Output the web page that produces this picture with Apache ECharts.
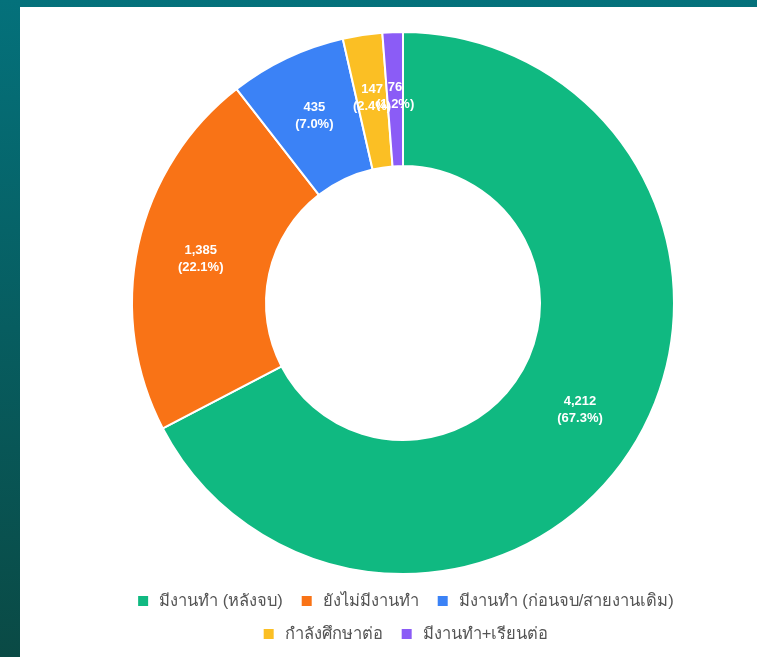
<!DOCTYPE html>
<html>
<head>
<meta charset="utf-8">
<script src="https://cdn.jsdelivr.net/npm/echarts@6/dist/echarts.min.js"></script>
<style>
  html, body { margin: 0; padding: 0; width: 757px; height: 657px; overflow: hidden; }
  body { background: linear-gradient(180deg, #04717b 0%, #075d60 50%, #0a4a45 100%); position: relative; }
  .panel { position: absolute; left: 20px; top: 7px; width: 737px; height: 650px; background: #fff; }
  #chart { position: absolute; left: 20px; top: 7px; width: 770px; height: 650px; }
</style>
</head>
<body>
<div class="panel"></div>
<div id="chart"></div>
<script>
// Graduate employment status breakdown
const categories = ['มีงานทำ (หลังจบ)', 'ยังไม่มีงานทำ', 'มีงานทำ (ก่อนจบ/สายงานเดิม)', 'กำลังศึกษาต่อ', 'มีงานทำ+เรียนต่อ']
const counts = [4212, 1385, 435, 147, 76]
const colors = ['#10b981', '#f97316', '#3b82f6', '#fbbf24', '#8b5cf6']

const total = counts.reduce((a, b) => a + b, 0)

const chart = echarts.init(document.getElementById('chart'))

// legend rows are centred one by one, so split into two legends
const legendBase = {
  left: 'center',
  itemWidth: 12,
  itemHeight: 12,
  itemGap: 17,
  icon: 'rect',
  textStyle: { fontSize: 16.5, lineHeight: 18, color: '#555', padding: [0, 0, 0, 5] }
}

const option = {
  backgroundColor: 'transparent',
  textStyle: { fontFamily: '"Liberation Sans", "Noto Sans", sans-serif' },
  legend: [
    { ...legendBase, data: categories.slice(0, 3), top: 580 },
    { ...legendBase, data: categories.slice(3), top: 613 }
  ],
  series: [
    {
      type: 'pie',
      center: [383, 296],
      radius: [137, 271],
      startAngle: 90,
      clockwise: true,
      avoidLabelOverlap: false,
      itemStyle: { borderColor: '#fff', borderWidth: 2 },
      label: {
        show: true,
        position: 'inside',
        color: '#fff',
        fontSize: 13,
        fontWeight: 'bold',
        lineHeight: 17,
        formatter: (p) => p.value.toLocaleString('en-US') + '\n(' + (p.value / total * 100).toFixed(1) + '%)'
      },
      labelLayout: { hideOverlap: false },
      labelLine: { show: false },
      data: categories.map((name, i) => ({
        name,
        value: counts[i],
        itemStyle: { color: colors[i] }
      }))
    }
  ]
}

chart.setOption(option)
</script>
</body>
</html>
